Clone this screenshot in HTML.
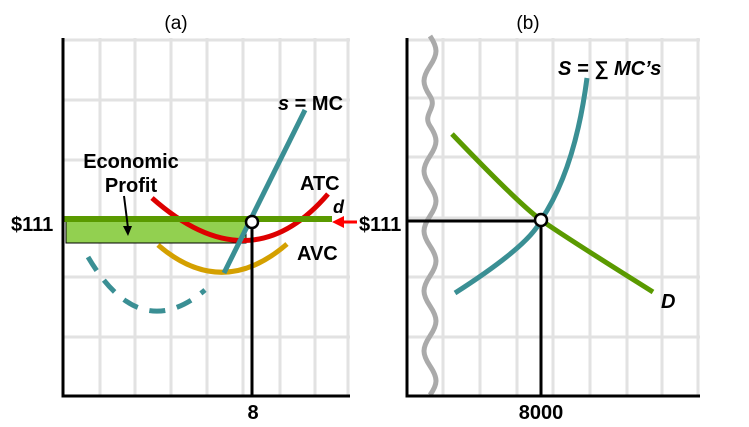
<!DOCTYPE html><html><head><style>body{margin:0;background:#fff}svg{display:block}text{font-family:"Liberation Sans",sans-serif}</style></head><body>
<svg width="749" height="427" viewBox="0 0 749 427">
<g stroke="#e2e2e2" stroke-width="3" fill="none">
<path d="M100 38V396M135 38V396M171 38V396M207 38V396M243 38V396M280 38V396M315 38V396M348 38V396M63 40H350M63 100H350M63 160H350M63 277H350M63 337H350"/>
<path d="M443 38V396M480 38V396M517 38V396M553 38V396M590 38V396M627 38V396M662 38V396M698 38V396M407 40H700M407 98H700M407 157H700M407 277H700M407 337H700M407 218H700"/>
</g>
<text x="176" y="29" font-size="19" text-anchor="middle">(a)</text>
<text x="528" y="29" font-size="19" text-anchor="middle">(b)</text>
<rect x="66" y="220" width="180" height="23" fill="#92d050" stroke="#000" stroke-width="1"/>
<path d="M88 257Q140 345 205 290" stroke="#3a8f94" stroke-width="5" fill="none" stroke-dasharray="16,12"/>
<path d="M158 245Q222 300 287 244" stroke="#d4a000" stroke-width="5" fill="none"/>
<path d="M152 198Q250 285 328 194" stroke="#dd0000" stroke-width="5" fill="none"/>
<path d="M224 273L305 110" stroke="#3a8f94" stroke-width="5" fill="none"/>
<path d="M64 219H332" stroke="#5a9a00" stroke-width="6"/>
<path d="M357 222H340" stroke="#f00" stroke-width="3"/><path d="M332 222l12-6v12z" fill="#f00"/>
<path d="M252 222V396" stroke="#000" stroke-width="3"/>
<circle cx="252" cy="222" r="6" fill="#fff" stroke="#000" stroke-width="2.5"/>
<path d="M63 38V396H350" stroke="#000" stroke-width="3" fill="none"/>
<path d="M124 196L128 228" stroke="#000" stroke-width="2"/><path d="M123 226l5 10 4-10z" fill="#000"/>
<g font-size="20" font-weight="bold">
<text x="131" y="168" text-anchor="middle">Economic</text>
<text x="131" y="192" text-anchor="middle">Profit</text>
<text x="278" y="110"><tspan font-style="italic">s</tspan> = MC</text>
<text x="300" y="190">ATC</text>
<text x="297" y="260">AVC</text>
<text x="333" y="213" font-style="italic" font-size="18">d</text>
<text x="11" y="231">$111</text>
<text x="253" y="419" text-anchor="middle">8</text>
<text x="359" y="231">$111</text>
<text x="541" y="419" text-anchor="middle">8000</text>
<text x="558" y="75" font-style="italic">S = ∑ MC’s</text>
<text x="661" y="308" font-style="italic">D</text>
</g>
<path d="M430 36c8 12 8 18 0 30s-8 18 0 30-8 18 0 30 8 18 0 30-8 18 0 30 8 18 0 30-8 18 0 30 8 18 0 30-8 18 0 30 8 18 0 30-8 18 0 30 8 18 0 29" stroke="#aaa" stroke-width="5" fill="none"/>
<path d="M407 221H541V396" stroke="#000" stroke-width="3" fill="none"/>
<path d="M452 134Q520 205 541 220T653 292" stroke="#5a9a00" stroke-width="5" fill="none"/>
<path d="M455 293Q530 245 541 220Q575 170 587 78" stroke="#3a8f94" stroke-width="5" fill="none"/>
<circle cx="541" cy="220" r="6" fill="#fff" stroke="#000" stroke-width="2.5"/>
<path d="M407 38V396H700" stroke="#000" stroke-width="3" fill="none"/>
</svg></body></html>
